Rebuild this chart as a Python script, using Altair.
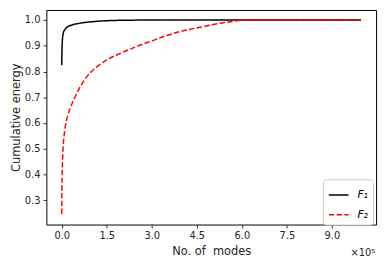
import altair as alt
import pandas as pd

f1_x = [0, 1000, 2500, 5000, 10000, 19000, 35000, 63000, 117000, 200000, 300000, 500000, 997000]
f1_y = [0.824, 0.885, 0.925, 0.948, 0.962, 0.973, 0.981, 0.988, 0.995, 0.999, 1.0, 1.0, 1.0]

f2_x = [0, 500, 1500, 3000, 6000, 10000, 14000, 20000, 28000, 38000, 57000, 85000, 117000, 150000, 190000,
        249000, 300000, 350000, 400000, 461000, 520000, 571000, 604000, 800000, 997000]
f2_y = [0.246, 0.33, 0.40, 0.46, 0.525, 0.57, 0.60, 0.628, 0.657, 0.685, 0.731, 0.782, 0.818, 0.845, 0.868,
        0.897, 0.919, 0.940, 0.957, 0.972, 0.986, 0.995, 1.0, 1.0, 1.0]

series_names = ["F\u2081", "F\u2082"]
x_ticks = [0, 150000, 300000, 450000, 600000, 750000, 900000]
y_ticks = [0.3, 0.4, 0.5, 0.6, 0.7, 0.8, 0.9, 1.0]

df = pd.concat([
    pd.DataFrame({"modes": f1_x, "energy": f1_y, "series": series_names[0], "order": range(len(f1_x))}),
    pd.DataFrame({"modes": f2_x, "energy": f2_y, "series": series_names[1], "order": range(len(f2_x))}),
])

W, H = 335, 218
FONT = "DejaVu Sans"

lines = alt.Chart(df).mark_line(strokeWidth=1.5, interpolate="monotone").encode(
    x=alt.X("modes:Q", scale=alt.Scale(domain=[-51000, 1047000], nice=False, zero=False),
            axis=alt.Axis(values=x_ticks, labelExpr="format(datum.value/100000, '.1f')",
                          title="No. of\u00a0 modes", grid=False)),
    y=alt.Y("energy:Q", scale=alt.Scale(domain=[0.2055, 1.039], nice=False, zero=False),
            axis=alt.Axis(values=y_ticks, format=".1f", title="Cumulative energy", grid=False)),
    color=alt.Color("series:N", scale=alt.Scale(domain=series_names, range=["#000000", "#ff0000"]),
                    legend=alt.Legend(title=None, orient="none", legendX=281, legendY=172,
                                      symbolType="stroke", symbolSize=400, symbolStrokeWidth=1.5,
                                      labelFontStyle="italic", labelFontSize=11, labelFont=FONT,
                                      padding=5, rowPadding=4, fillColor="white",
                                      strokeColor="#cccccc", cornerRadius=3, labelOffset=8)),
    strokeDash=alt.StrokeDash("series:N", scale=alt.Scale(domain=series_names, range=[[1, 0], [5.5, 2.4]]),
                              legend=None),
    order="order:Q",
)

offset = alt.Chart(pd.DataFrame({"t": ["\u00d710\u2075"]})).mark_text(
    align="right", baseline="middle", fontSize=10, font=FONT, color="#262626"
).encode(x=alt.value(334), y=alt.value(247), text="t:N")

chart = alt.layer(lines, offset).properties(
    width=W, height=H,
    autosize=alt.AutoSizeParams(type="none"),
    padding={"left": 39, "top": 0, "right": 5, "bottom": 35},
).configure_view(stroke="black", strokeWidth=1).configure_axis(
    domain=False, tickColor="black", tickSize=3.5, tickWidth=0.8,
    labelFont=FONT, labelFontSize=10, labelColor="#262626", labelPadding=3,
    titleFont=FONT, titleFontSize=11.6, titleFontWeight="normal", titleColor="#262626",
).configure_axisX(titlePadding=5).configure_axisY(titlePadding=3)

chart.save("out.html", embed_options={"renderer": "svg", "actions": False})
